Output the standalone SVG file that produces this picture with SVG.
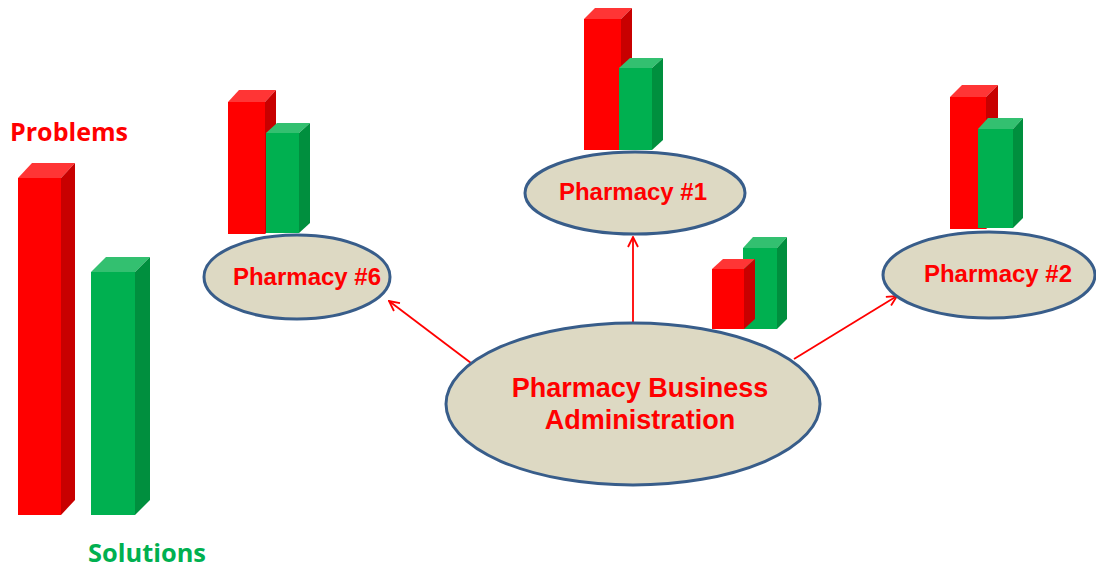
<svg xmlns="http://www.w3.org/2000/svg" width="1096" height="569" viewBox="0 0 1096 569">
<defs>
<style>
.rf{fill:#ff0000}.rs{fill:#c80000}.rt{fill:#ff3535}
.gf{fill:#00b050}.gs{fill:#008f3e}.gt{fill:#33c070}
.ell{fill:#ddd9c3;stroke:#385d8a;stroke-width:3}
.lbl{font-family:"Liberation Sans",Arial,sans-serif;font-weight:bold;fill:#ff0000;text-anchor:middle}
.side{font-family:"Open Sans","Noto Sans",sans-serif;font-weight:bold;font-size:25px}
.con{stroke:#ff0000;stroke-width:1.8;fill:none}
</style>
<marker id="ah" viewBox="0 0 12 12" refX="11" refY="6" markerWidth="12" markerHeight="12" markerUnits="userSpaceOnUse" orient="auto">
<path d="M1,1 L11,6 L1,11" fill="none" stroke="#ff0000" stroke-width="1.8"/>
</marker>
</defs>
<rect width="1096" height="569" fill="#ffffff"/>

<g id="legend">
<text class="side" x="10" y="141" fill="#ff0000" textLength="118" lengthAdjust="spacingAndGlyphs">Problems</text>
<text class="side" x="88" y="562" fill="#00b050" textLength="118" lengthAdjust="spacingAndGlyphs">Solutions</text>
<polygon class="rt" points="18,178 32,163 75,163 61,178"/>
<polygon class="rs" points="61,178 75,163 75,500 61,515"/>
<rect class="rf" x="18" y="178" width="43" height="337"/>
<polygon class="gt" points="91,272 106,257 150,257 135,272"/>
<polygon class="gs" points="135,272 150,257 150,500 135,515"/>
<rect class="gf" x="91" y="272" width="44" height="243"/>
</g>

<g id="connectors">
<line class="con" x1="471" y1="363" x2="389" y2="301" marker-end="url(#ah)"/>
<line class="con" x1="633" y1="323" x2="633" y2="237" marker-end="url(#ah)"/>
<line class="con" x1="794" y1="359" x2="897" y2="296" marker-end="url(#ah)"/>
</g>

<g id="pharmacy6">
<polygon class="rt" points="228,102 239,90 276,90 265,102"/>
<polygon class="rs" points="265,102 276,90 276,224 265,234"/>
<rect class="rf" x="228" y="102" width="37" height="132"/>
<polygon class="gt" points="266,133 277,123 310,123 299,133"/>
<polygon class="gs" points="299,133 310,123 310,223 299,233"/>
<rect class="gf" x="266" y="133" width="33" height="100"/>
<ellipse class="ell" cx="297" cy="277" rx="93" ry="42"/>
<text class="lbl" x="307" y="285" font-size="24">Pharmacy #6</text>
</g>

<g id="pharmacy1">
<polygon class="rt" points="584,19 595,8 632,8 621,19"/>
<polygon class="rs" points="621,19 632,8 632,140 621,150"/>
<rect class="rf" x="584" y="19" width="37" height="131"/>
<polygon class="gt" points="619,68 630,58 663,58 652,68"/>
<polygon class="gs" points="652,68 663,58 663,140 652,150"/>
<rect class="gf" x="619" y="68" width="33" height="82"/>
<ellipse class="ell" cx="635" cy="193" rx="110" ry="41"/>
<text class="lbl" x="633" y="200" font-size="24">Pharmacy #1</text>
</g>

<g id="pharmacy2">
<polygon class="rt" points="950,97 962,85 998,85 986,97"/>
<polygon class="rs" points="986,97 998,85 998,219 986,229"/>
<rect class="rf" x="950" y="97" width="36" height="132"/>
<polygon class="gt" points="978,129 988,118 1023,118 1013,129"/>
<polygon class="gs" points="1013,129 1023,118 1023,218 1013,228"/>
<rect class="gf" x="978" y="129" width="35" height="99"/>
<ellipse class="ell" cx="989" cy="275" rx="106" ry="43"/>
<text class="lbl" x="998" y="282" font-size="24">Pharmacy #2</text>
</g>

<g id="center-bars">
<polygon class="gt" points="743,248 753,237 787,237 777,248"/>
<polygon class="gs" points="777,248 787,237 787,319 777,329"/>
<rect class="gf" x="743" y="248" width="34" height="81"/>
<polygon class="rt" points="712,269 723,259 755,259 744,269"/>
<polygon class="rs" points="744,269 755,259 755,319 744,329"/>
<rect class="rf" x="712" y="269" width="32" height="60"/>
</g>

<g id="admin">
<ellipse class="ell" cx="633" cy="404" rx="187" ry="81"/>
<text class="lbl" x="640" y="397" font-size="27">Pharmacy Business</text>
<text class="lbl" x="640" y="429" font-size="27">Administration</text>
</g>
</svg>
